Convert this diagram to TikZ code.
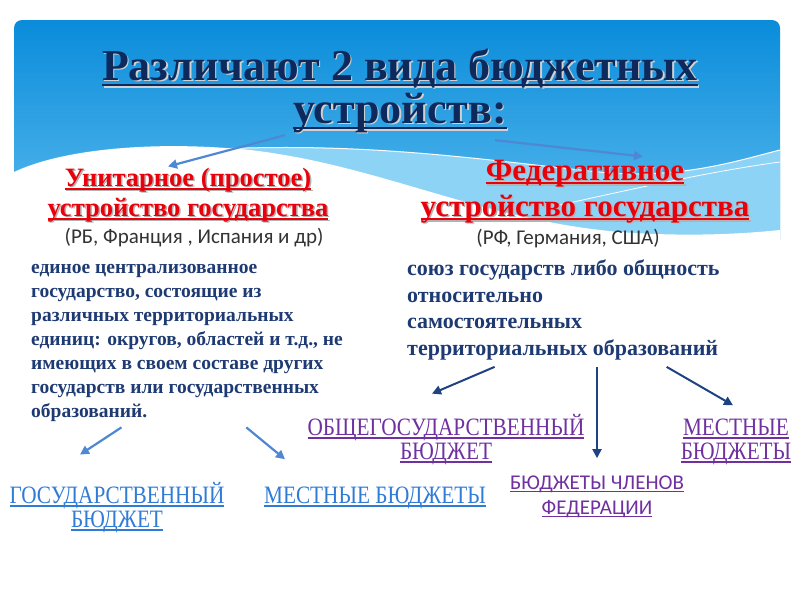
\documentclass[tikz,border=0pt]{standalone}
\usepackage{fontspec}
\setmainfont{Liberation Serif}
\newfontfamily\calib{Carlito}
\newfontfamily\narrowserif[FakeStretch=0.85]{Liberation Serif}
\usetikzlibrary{arrows.meta,calc}

\definecolor{skytop}{HTML}{0A8CDA}
\definecolor{skybot}{HTML}{5CBCEF}
\definecolor{skyband}{HTML}{8DD3F6}
\definecolor{titlenavy}{HTML}{0E2A5C}
\definecolor{headred}{HTML}{E8000B}
\definecolor{bodynavy}{HTML}{1E3A72}
\definecolor{arrnavy}{HTML}{1F4282}
\definecolor{arrlite}{HTML}{4F88D2}
\definecolor{budpurple}{HTML}{7030A0}
\definecolor{budblue}{HTML}{2F7BD6}

% underline and drop shadow for the slide texts
\newcommand\undl[1]{\leavevmode\setbox0\hbox{#1}\rlap{\rule[-0.14em]{\wd0}{0.06em}}\box0}
\newcommand\shtxt[2]{\leavevmode\rlap{\raisebox{-1.5pt}{\hspace*{1.5pt}\textcolor{#1}{#2}}}#2}

\tikzset{
  ttl/.style={text=titlenavy, inner sep=0pt, font=\fontsize{44}{46}\selectfont\bfseries},
  headtxt/.style={text=headred, inner sep=0pt, align=center},
  paren/.style={text=black!80, inner sep=0pt, font=\calib\fontsize{21}{22}\selectfont},
  bodytxt/.style={text=bodynavy, inner sep=0pt, align=left},
  budlbl/.style={inner sep=0pt, align=center, font=\narrowserif\fontsize{25}{24}\selectfont},
  litearr/.style={arrlite, line width=2.2pt, -{Triangle[length=9pt,width=9pt]}},
  navyarr/.style={arrnavy, line width=2pt, -{Triangle[length=9pt,width=9pt]}}
}

\begin{document}
\begin{tikzpicture}[x=1pt,y=-1pt]
  \useasboundingbox (0,0) rectangle (800,600);
  % sky with waves
  \shade[top color=skytop, bottom color=skybot] (14,240) [rounded corners=8pt]-- (14,20) -- (780,20) [sharp corners]-- (780,240) -- cycle;
  \fill[skyband] (200,150) .. controls (350,140) and (480,160) .. (600,172)
    .. controls (680,180) and (740,160) .. (780,150) -- (780,240) -- (200,240) -- cycle;
  \fill[white] (14,172) .. controls (60,150) and (150,140) .. (250,150)
    .. controls (380,165) and (480,220) .. (620,232)
    .. controls (700,238) and (760,232) .. (780,230) -- (780,245) -- (14,245) -- cycle;
  \draw[white, line width=1pt] (170,152) .. controls (350,138) and (480,160) .. (600,172)
    .. controls (680,180) and (740,160) .. (780,150);
  \draw[white, line width=0.8pt] (560,205) .. controls (650,185) and (720,170) .. (780,162);

  % title
  \node[ttl, anchor=base] (ttl1) at (400,80) {\shtxt{black!18}{\undl{Различают 2 вида бюджетных}}};
  \node[ttl, anchor=base] (ttl2) at (400,123) {\shtxt{black!18}{\undl{устройств:}}};

  % unitary state
  \node[headtxt, anchor=base, font=\fontsize{26.5}{30}\selectfont\bfseries] (unit) at (188,216)
    {\shtxt{black!30}{\undl{Унитарное (простое)}}\\ \shtxt{black!30}{\undl{устройство государства}}};
  \node[paren, anchor=base] (unitex) at (194,243) {(РБ, Франция , Испания и др)};
  \node[bodytxt, anchor=base west, font=\fontsize{19.5}{24}\selectfont\bfseries] (unittxt) at (31,417)
    {единое централизованное\\ государство, состоящие из\\ различных территориальных\\
     единиц: округов, областей и т.д., не\\ имеющих в своем составе других\\
     государств или государственных\\ образований.};

  % federative state
  \node[headtxt, anchor=base, font=\fontsize{31}{36}\selectfont\bfseries] (fed) at (585,216)
    {\shtxt{black!30}{\undl{Федеративное}}\\ \shtxt{black!30}{\undl{устройство государства}}};
  \node[paren, anchor=base] (fedex) at (568,244) {(РФ, Германия, США)};
  \node[bodytxt, anchor=base west, font=\fontsize{22}{26.5}\selectfont\bfseries] (fedtxt) at (407,355)
    {союз государств либо общность\\ относительно\\ самостоятельных\\ территориальных образований};

  % budgets
  \node[budlbl, text=budblue, anchor=base] (gosb) at (117,527) {\undl{ГОСУДАРСТВЕННЫЙ}\\ \undl{БЮДЖЕТ}};
  \node[budlbl, text=budblue, anchor=base] (mestl) at (375,503) {\undl{МЕСТНЫЕ БЮДЖЕТЫ}};
  \node[budlbl, text=budpurple, anchor=base] (obsh) at (446,459) {\undl{ОБЩЕГОСУДАРСТВЕННЫЙ}\\ \undl{БЮДЖЕТ}};
  \node[budlbl, text=budpurple, anchor=base] (mestr) at (736,459) {\undl{МЕСТНЫЕ}\\ \undl{БЮДЖЕТЫ}};
  \node[budlbl, text=budpurple, anchor=base, font=\calib\fontsize{21}{25}\selectfont] (chlen) at (597,514)
    {\undl{БЮДЖЕТЫ ЧЛЕНОВ}\\ \undl{ФЕДЕРАЦИИ}};

  % arrows
  \draw[litearr] ($(ttl2.south west)+(-8,1)$) -- ($(unit.north)+(-20,-1)$);
  \draw[litearr] ($(ttl2.south east)+(-12,6)$) -- ($(fed.north)+(58,-3)$);
  \draw[navyarr] ($(fedtxt.south west)!0.28!(fedtxt.south east)+(0,7)$) -- ($(obsh.north)+(-14,-20)$);
  \draw[navyarr] (fedtxt.south -| chlen.north) ++(0,7) -- ($(chlen.north)+(0,-17)$);
  \draw[navyarr] ($(fedtxt.south west)!0.83!(fedtxt.south east)+(0,7)$) -- ($(mestr.north)+(-3,-13)$);
  \draw[litearr] ($(unittxt.south west)!0.29!(unittxt.south east)+(0,6)$) -- ($(gosb.north)+(-37,-27)$);
  \draw[litearr] ($(unittxt.south west)!0.69!(unittxt.south east)+(0,6)$) -- ($(mestl.north)+(-90,-27)$);
\end{tikzpicture}
\end{document}
